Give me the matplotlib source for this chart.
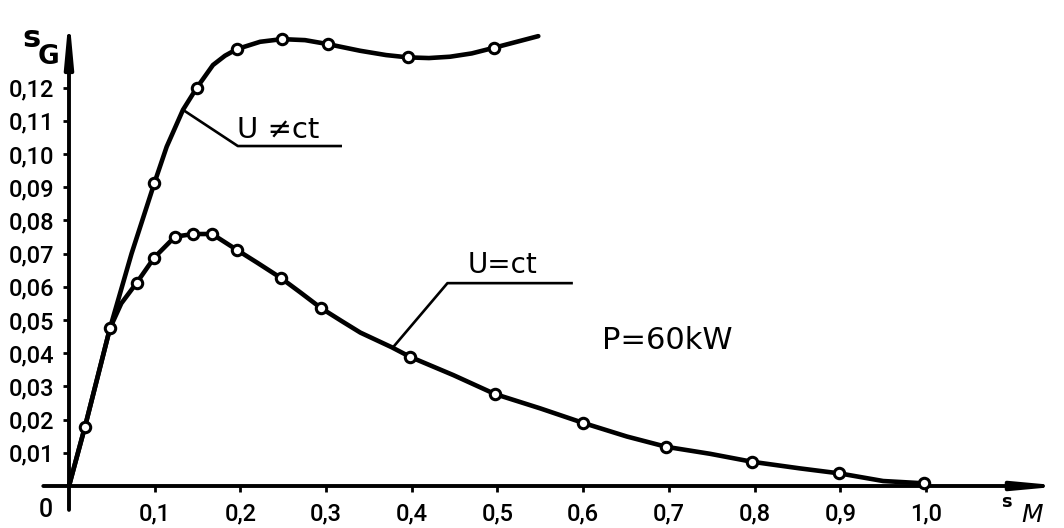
import matplotlib
matplotlib.use("Agg")
import matplotlib.pyplot as plt

plt.rcParams['font.family'] = ['Roboto', 'DejaVu Sans']

# Slip of the generator s_G versus slip of the motor s_M, P = 60 kW
# Curve U != ct (traced line and measured points)
trace_var_x = [0.0, 0.0187, 0.0478, 0.073, 0.0997, 0.114, 0.133, 0.149, 0.168,
               0.182, 0.196, 0.223, 0.2485, 0.2754, 0.302, 0.3396, 0.37, 0.3956,
               0.42, 0.4446, 0.47, 0.496, 0.5476]
trace_var_y = [0.0, 0.0179, 0.0475, 0.070, 0.0913, 0.1022, 0.1133, 0.1199, 0.1268,
               0.1296, 0.1316, 0.1338, 0.1346, 0.1343, 0.1331, 0.1311, 0.1298, 0.1291,
               0.1289, 0.1293, 0.1303, 0.1320, 0.1355]
pts_var_x = [0.0997, 0.149, 0.196, 0.2485, 0.302, 0.3956, 0.496]
pts_var_y = [0.0913, 0.1199, 0.1316, 0.1346, 0.1331, 0.1291, 0.1320]

# Curve U = ct (traced line and measured points)
trace_const_x = [0.0, 0.0187, 0.0478, 0.061, 0.079, 0.0995, 0.1237, 0.145, 0.167,
                 0.196, 0.22, 0.247, 0.27, 0.294, 0.318, 0.34, 0.3765, 0.398, 0.4485,
                 0.497, 0.5496, 0.600, 0.651, 0.697, 0.748, 0.797, 0.853, 0.899,
                 0.95, 0.998]
trace_const_y = [0.0, 0.0179, 0.0475, 0.055, 0.0612, 0.0688, 0.0751, 0.0759, 0.0759,
                 0.0711, 0.0672, 0.0627, 0.0583, 0.0536, 0.0497, 0.0462, 0.0418, 0.0389,
                 0.0334, 0.0277, 0.0234, 0.0190, 0.0149, 0.0118, 0.0097, 0.0073, 0.0053,
                 0.0038, 0.0015, 0.0008]
pts_const_x = [0.0187, 0.0478, 0.079, 0.0995, 0.1237, 0.145, 0.167, 0.196, 0.247,
               0.294, 0.398, 0.497, 0.600, 0.697, 0.797, 0.899, 0.998]
pts_const_y = [0.0179, 0.0475, 0.0612, 0.0688, 0.0751, 0.0759, 0.0759, 0.0711, 0.0627,
               0.0536, 0.0389, 0.0277, 0.0190, 0.0118, 0.0073, 0.0038, 0.0008]

x_ticks = [0.1, 0.2, 0.3, 0.4, 0.5, 0.6, 0.7, 0.8, 0.9, 1.0]
x_tick_labels = ['0,1', '0,2', '0,3', '0,4', '0,5', '0,6', '0,7', '0,8', '0,9', '1,0']
y_ticks = [0.01, 0.02, 0.03, 0.04, 0.05, 0.06, 0.07, 0.08, 0.09, 0.10, 0.11, 0.12]
y_tick_labels = ['0,01', '0,02', '0,03', '0,04', '0,05', '0,06', '0,07', '0,08',
                 '0,09', '0,10', '0,11', '0,12']

# leader lines of the curve labels
lead_var_x = [0.133, 0.197, 0.317]
lead_var_y = [0.1133, 0.1024, 0.1024]
lead_const_x = [0.3785, 0.4416, 0.5864]
lead_const_y = [0.0419, 0.0611, 0.0611]

fig = plt.figure(figsize=(10.64, 5.28), dpi=100)
ax = fig.add_axes([0, 0, 1, 1])
ax.set_xlim(-0.08051, 1.16103)
ax.set_ylim(-0.012651, 0.146386)
ax.patch.set_alpha(0)

for sp in ax.spines.values():
    sp.set_visible(False)
ax.spines['left'].set_position(('data', 0))
ax.spines['bottom'].set_position(('data', 0))

ax.set_xticks(x_ticks, x_tick_labels)
ax.set_yticks(y_ticks, y_tick_labels)
ax.tick_params(axis='y', direction='out', length=4.5, width=2.0, pad=6, labelsize=17)
ax.tick_params(axis='x', direction='out', length=4.0, width=2.0, pad=8, labelsize=17)
for lab in ax.get_xticklabels() + ax.get_yticklabels():
    lab.set_fontweight('medium')

# axes drawn as arrows
arrow_kw = dict(arrowstyle='-|>,head_length=1.3,head_width=0.12', lw=2.8,
                color='black', shrinkA=0, shrinkB=0, mutation_scale=20)
ax.annotate('', xy=(0, 0.1419), xytext=(0, -0.0072), arrowprops=arrow_kw)
ax.annotate('', xy=(1.161, 0), xytext=(-0.030, 0), arrowprops=arrow_kw)

# curves
ax.plot(trace_var_x, trace_var_y, color='black', lw=3.3, solid_capstyle='round',
        solid_joinstyle='round', zorder=3)
ax.plot(trace_const_x, trace_const_y, color='black', lw=3.3, solid_capstyle='round',
        solid_joinstyle='round', zorder=3)
marker_kw = dict(linestyle='none', marker='o', markersize=7.5, markerfacecolor='white',
                 markeredgecolor='black', markeredgewidth=2.2, zorder=4)
ax.plot(pts_var_x, pts_var_y, **marker_kw)
ax.plot(pts_const_x, pts_const_y, **marker_kw)

# labels with leader lines
ax.plot(lead_var_x, lead_var_y, color='black', lw=1.9, zorder=3)
ax.plot(lead_const_x, lead_const_y, color='black', lw=1.9, zorder=3)
ax.text(0.2439, 0.1048, 'U ≠ct', fontsize=21, ha='center', va='baseline',
        family=['DejaVu Sans'])
ax.text(0.5053, 0.06416, 'U=ct', fontsize=20, ha='center', va='baseline',
        family=['DejaVu Sans'])
ax.text(0.6978, 0.04127, 'P=60kW', fontsize=22, ha='center', va='baseline',
        family=['DejaVu Sans'])

# origin and axis names
ax.text(-0.0274, -0.0072, '0', fontsize=18, ha='center', va='center',
        fontweight='medium')
ax.text(-0.0435, 0.1322, 's', fontsize=22, ha='center', va='baseline',
        fontweight='bold', family=['DejaVu Sans'])
ax.text(-0.0245, 0.1271, 'G', fontsize=19, ha='center', va='baseline',
        fontweight='bold', family=['DejaVu Sans'])
ax.text(1.0934, -0.0063, 's', fontsize=13, ha='center', va='baseline',
        fontweight='bold', family=['DejaVu Sans'])
ax.text(1.1237, -0.0108, 'M', fontsize=18, ha='center', va='baseline',
        fontstyle='italic', family=['DejaVu Sans'])

fig.savefig('out.png', dpi=100, facecolor='white')
